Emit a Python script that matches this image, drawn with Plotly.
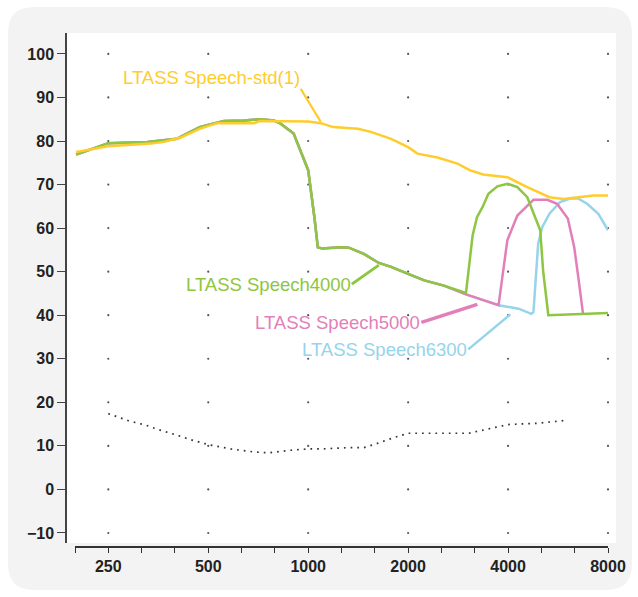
import math
import numpy as np
import plotly.graph_objects as go

# ---------------- data ----------------
x_tick_labels = ["250", "500", "1000", "2000", "4000", "8000"]
x_tick_values = [250, 500, 1000, 2000, 4000, 8000]
y_tick_values = [-10, 0, 10, 20, 30, 40, 50, 60, 70, 80, 90, 100]

std_freq = [200, 237, 250, 336, 368, 413, 471, 532, 624, 687, 716, 886, 1000, 1091,
            1190, 1411, 1544, 1777, 2000, 2134, 2452, 2816, 3065, 3363, 3980, 4570,
            5330, 5875, 6590, 7230, 8000]
std_level = [77.5, 78.6, 78.8, 79.4, 79.8, 80.8, 82.8, 84.1, 84.0, 84.1, 84.6, 84.6,
             84.5, 84.1, 83.2, 82.8, 82.1, 80.5, 78.6, 77.1, 76.2, 74.8, 73.3, 72.3,
             71.7, 69.4, 67.1, 66.7, 67.1, 67.5, 67.5]

s4000_freq = [200, 237, 250, 328, 368, 402, 431, 471, 506, 558, 642, 716, 788, 822, 904,
              1000, 1044, 1069, 1102, 1254, 1325, 1471, 1632, 1777, 2000, 2236, 2564,
              2987, 3128, 3225, 3350, 3490, 3715, 3980, 4265, 4570, 5000, 5100, 5288,
              6054, 8000]
s4000_level = [76.9, 79.0, 79.5, 79.8, 80.1, 80.5, 81.7, 83.2, 83.8, 84.6, 84.7, 85.0,
               84.7, 84.1, 81.7, 73.3, 62.5, 55.6, 55.3, 55.6, 55.5, 54.1, 52.0, 51.1,
               49.5, 48.0, 46.8, 45.1, 58.3, 62.5, 64.8, 67.9, 69.6, 70.2, 69.4, 67.1,
               59.5, 50.3, 40.0, 40.2, 40.5]

s5000_freq = [200, 237, 250, 328, 368, 402, 431, 471, 506, 558, 642, 716, 788, 822, 904,
              1000, 1044, 1069, 1102, 1254, 1325, 1471, 1632, 1777, 2000, 2236, 2564,
              2987, 3745, 3860, 3980, 4266, 4575, 4770, 5250, 5620, 6054, 6330, 6530,
              6727]
s5000_level = [76.9, 79.0, 79.5, 79.8, 80.1, 80.5, 81.7, 83.2, 83.8, 84.6, 84.7, 85.0,
               84.7, 84.1, 81.7, 73.3, 62.5, 55.6, 55.3, 55.6, 55.5, 54.1, 52.0, 51.1,
               49.5, 48.0, 46.8, 44.8, 42.3, 50.3, 57.2, 62.9, 65.2, 66.5, 66.5, 65.6,
               62.2, 55.6, 48.0, 40.3]

s6300_freq = [200, 237, 250, 328, 368, 402, 431, 471, 506, 558, 642, 716, 788, 822, 904,
              1000, 1044, 1069, 1102, 1254, 1325, 1471, 1632, 1777, 2000, 2236, 2564,
              2987, 3745, 4300, 4700, 4770, 4929, 5070, 5330, 5740, 6152, 6500, 6920,
              7480, 8000]
s6300_level = [76.9, 79.0, 79.5, 79.8, 80.1, 80.5, 81.7, 83.2, 83.8, 84.6, 84.7, 85.0,
               84.7, 84.1, 81.7, 73.3, 62.5, 55.6, 55.3, 55.6, 55.5, 54.1, 52.0, 51.1,
               49.5, 48.0, 46.8, 44.8, 42.3, 41.5, 40.3, 40.7, 56.4, 60.2, 63.3, 66.0,
               66.8, 66.8, 65.6, 63.3, 59.5]

threshold_freq = [250, 287, 326, 355, 405, 443, 500, 585, 687, 758, 886, 1000, 1100, 1318,
                  1471, 1578, 1812, 2000, 3048, 3464, 4000, 4912, 5875]
threshold_level = [17.4, 15.8, 14.7, 13.7, 12.4, 11.4, 10.3, 9.3, 8.6, 8.4, 9.0, 9.3,
                   9.3, 9.6, 9.6, 10.3, 11.9, 12.9, 12.9, 13.9, 14.9, 15.2, 15.8]

# ---------------- styles ----------------
C_STD = "#ffcc2e"
C_4000 = "#8dc641"
C_5000 = "#e27fb9"
C_6300 = "#96d4ec"
FONT = "Liberation Sans, Arial, sans-serif"

W, H = 638, 597
ML, MR, MT, MB = 66, 22, 33, 50
PW, PH = W - ML - MR, H - MT - MB

def px_x(px):
    return (px - ML) / PW

def px_y(py):
    return (H - MB - py) / PH

fig = go.Figure()

# grid dots at tick intersections
gx, gy = np.meshgrid(x_tick_values, y_tick_values)
fig.add_trace(go.Scatter(x=gx.ravel(), y=gy.ravel(), mode="markers",
                         marker=dict(size=2.2, color="#555"), cliponaxis=False,
                         hoverinfo="skip", showlegend=False))

for f, v, c in [(s6300_freq, s6300_level, C_6300),
                (s5000_freq, s5000_level, C_5000),
                (s4000_freq, s4000_level, C_4000),
                (std_freq, std_level, C_STD)]:
    fig.add_trace(go.Scatter(x=f, y=v, mode="lines", line=dict(color=c, width=2.5),
                             showlegend=False))

fig.add_trace(go.Scatter(x=threshold_freq, y=threshold_level, mode="lines",
                         line=dict(color="#333", width=1.7, dash="1.7px,5px"),
                         showlegend=False))

# labels with leader lines
labels = [
    ("LTASS Speech-std(1)", 1091, 84.4, -20, -33, "bottom", C_STD, 2.2),
    ("LTASS Speech4000", 1632, 51.5, -27, 19, "middle", C_4000, 3),
    ("LTASS Speech5000", 3233, 42.5, -56, 18, "middle", C_5000, 3.5),
    ("LTASS Speech6300", 4062, 40.2, -42, 35, "middle", C_6300, 2.5),
]
for text, x, y, ax, ay, yanc, col, aw in labels:
    fig.add_annotation(x=math.log10(x), y=y, xref="x", yref="y", text=text,
                       showarrow=True, arrowhead=0, arrowwidth=aw, arrowcolor=col,
                       ax=ax, ay=ay, xanchor="right", yanchor=yanc,
                       font=dict(family=FONT, size=18.5, color=col), borderpad=0)

# rounded gray card + white plot area
def rrect(x0, y0, x1, y1, rpx):
    rx, ry = rpx / PW, rpx / PH
    X0, X1 = px_x(x0), px_x(x1)
    Yt, Yb = px_y(y0), px_y(y1)
    return (f"M {X0+rx},{Yt} L {X1-rx},{Yt} Q {X1},{Yt} {X1},{Yt-ry} "
            f"L {X1},{Yb+ry} Q {X1},{Yb} {X1-rx},{Yb} L {X0+rx},{Yb} "
            f"Q {X0},{Yb} {X0},{Yb+ry} L {X0},{Yt-ry} Q {X0},{Yt} {X0+rx},{Yt} Z")

fig.add_shape(type="path", path=rrect(8, 7, 632, 590, 26), xref="paper", yref="paper",
              fillcolor="#f3f3f3", line=dict(width=0), layer="below")
fig.add_shape(type="rect", x0=px_x(66), x1=px_x(616), y0=px_y(543), y1=px_y(33),
              xref="paper", yref="paper", fillcolor="white", line=dict(width=0),
              layer="below")

minor_vals = [250 * 2 ** (k / 3) for k in range(-1, 16)]
minor_text = [x_tick_labels[x_tick_values.index(round(v))] if k % 3 == 0 else ""
              for k, v in zip(range(-1, 16), minor_vals)]

fig.update_layout(
    width=W, height=H, margin=dict(l=ML, r=MR, t=MT, b=MB, autoexpand=False),
    paper_bgcolor="white", plot_bgcolor="rgba(0,0,0,0)",
    font=dict(family=FONT, size=16, color="#2a2a2a"),
    xaxis=dict(type="log", range=[math.log10(250 / 2 ** (1 / 3)), math.log10(8000)],
               domain=[px_x(75), px_x(608)], anchor="free", position=0,
               automargin=False,
               showline=True, linecolor="#333", linewidth=1.5,
               ticks="outside", ticklen=5, tickwidth=1.3, tickcolor="#333",
               tickvals=minor_vals, ticktext=minor_text, showgrid=False, zeroline=False,
               tickfont=dict(size=16, color="#222", weight=600)),
    yaxis=dict(range=[-12.3, 104.8], domain=[px_y(543), 1], anchor="free", position=0,
               automargin=False,
               showline=True, linecolor="#444", linewidth=1.5,
               ticks="outside", ticklen=8, tickwidth=1.3, tickcolor="#444",
               tickvals=y_tick_values, showgrid=False, zeroline=False,
               tickfont=dict(size=16, color="#222", weight=600)),
)

fig.write_html("out.html")
